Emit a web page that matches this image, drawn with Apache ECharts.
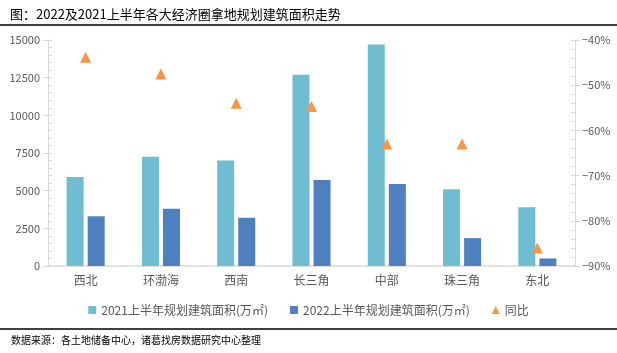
<!DOCTYPE html>
<html>
<head>
<meta charset="utf-8">
<script src="https://cdn.jsdelivr.net/npm/echarts@6/dist/echarts.min.js"></script>
<style>
  html, body { margin: 0; padding: 0; background: #fff; }
  #chart { width: 617px; height: 353px; }
</style>
</head>
<body>
<div id="chart"></div>
<script>
var regions = ['西北', '环渤海', '西南', '长三角', '中部', '珠三角', '东北'];
var area2021 = [5900, 7250, 7000, 12700, 14700, 5100, 3900];
var area2022 = [3300, 3800, 3200, 5700, 5450, 1850, 500];
var yoy = [-43.8, -47.5, -54.0, -54.7, -63.0, -63.0, -86.0];

var font = '"Noto Sans CJK SC", "Microsoft YaHei", sans-serif';
var axisGray = '#d9d9d9';
var labelGray = '#595959';

var chart = echarts.init(document.getElementById('chart'));

chart.setOption({
    animation: false,
    textStyle: { fontFamily: font },
    title: {
        text: '图：2022及2021上半年各大经济圈拿地规划建筑面积走势',
        left: 5,
        top: 3,
        textStyle: { fontSize: 13, fontWeight: 'normal', color: '#000', fontFamily: font }
    },
    graphic: [
        { type: 'line', shape: { x1: 0, y1: 25, x2: 617, y2: 25 }, style: { stroke: '#000', lineWidth: 1.5 } },
        { type: 'line', shape: { x1: 0, y1: 329, x2: 617, y2: 329 }, style: { stroke: '#000', lineWidth: 1.5 } },
        {
            type: 'text', left: 11, top: 335,
            style: { text: '数据来源：各土地储备中心，诸葛找房数据研究中心整理', fontSize: 10, fill: '#000', fontFamily: font }
        }
    ],
    legend: {
        bottom: 32,
        left: 'center',
        itemWidth: 8,
        itemHeight: 8,
        itemGap: 22,
        textStyle: { fontSize: 12, color: labelGray, fontFamily: font },
        data: [
            { name: '2021上半年规划建筑面积(万㎡)', icon: 'rect' },
            { name: '2022上半年规划建筑面积(万㎡)', icon: 'rect' },
            { name: '同比', icon: 'triangle', itemStyle: { color: '#f79646', opacity: 1 } }
        ]
    },
    grid: { left: 48, right: 42, top: 40, bottom: 87 },
    xAxis: {
        type: 'category',
        data: regions,
        axisLine: { lineStyle: { color: axisGray, width: 1.5 } },
        axisTick: { show: false },
        axisLabel: { color: labelGray, fontSize: 12, margin: 8 }
    },
    yAxis: [
        {
            type: 'value', position: 'left', min: 0, max: 15000, interval: 2500,
            axisLine: { show: true, lineStyle: { color: axisGray } },
            axisTick: { show: true, length: 5, lineStyle: { color: axisGray } },
            axisLabel: {
                color: labelGray, fontSize: 11, margin: 8,
                formatter: function (v) { return String(v); }
            },
            splitLine: { show: false }
        },
        {
            type: 'value', position: 'right', min: -90, max: -40, interval: 10,
            axisLine: { show: true, lineStyle: { color: axisGray } },
            axisTick: { show: true, length: 5, lineStyle: { color: axisGray } },
            axisLabel: {
                color: labelGray, fontSize: 11, margin: 7,
                formatter: function (v) { return '−' + Math.abs(v) + '%'; }
            },
            splitLine: { show: false }
        },
        {
            type: 'value', position: 'left', min: 0, max: 15000, interval: 2500,
            axisLine: { show: false },
            axisTick: { show: true, inside: true, length: 4, lineStyle: { color: axisGray } },
            minorTick: { show: true, splitNumber: 5, length: 4, lineStyle: { color: axisGray } },
            axisLabel: { show: false },
            splitLine: { show: false }
        },
        {
            type: 'value', position: 'right', min: -90, max: -40, interval: 10,
            axisLine: { show: false },
            axisTick: { show: true, inside: true, length: 4, lineStyle: { color: axisGray } },
            minorTick: { show: true, splitNumber: 5, length: 4, lineStyle: { color: axisGray } },
            axisLabel: { show: false },
            splitLine: { show: false }
        }
    ],
    series: [
        {
            name: '2021上半年规划建筑面积(万㎡)',
            type: 'bar',
            yAxisIndex: 0,
            barWidth: 17,
            barGap: '24%',
            itemStyle: { color: '#70bcd0' },
            data: area2021
        },
        {
            name: '2022上半年规划建筑面积(万㎡)',
            type: 'bar',
            yAxisIndex: 0,
            barWidth: 17,
            itemStyle: { color: '#4f80be' },
            data: area2022
        },
        {
            name: '同比',
            type: 'scatter',
            yAxisIndex: 1,
            symbol: 'triangle',
            symbolSize: 11,
            itemStyle: { color: '#f79646', opacity: 1 },
            data: yoy
        }
    ]
});
</script>
</body>
</html>
